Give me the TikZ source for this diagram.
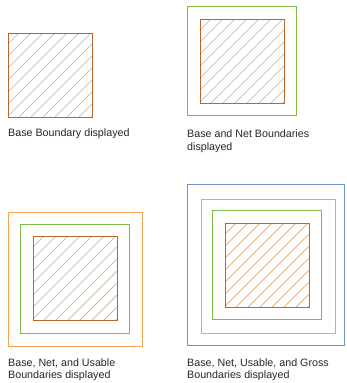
\documentclass[tikz,border=0pt]{standalone}
\usepackage{fontspec}
\setmainfont{Liberation Sans}
\usepackage{xcolor}
\usepackage{tikz}
\usetikzlibrary{calc}

\definecolor{basecol}{HTML}{B8662A}
\definecolor{hatchcol}{HTML}{DCA676}
\definecolor{netcol}{HTML}{82BC48}
\definecolor{usablecol}{HTML}{F7A354}
\definecolor{grosscol}{HTML}{6A96CC}

\begin{document}
\begin{tikzpicture}[
  x=1pt, y=-1pt,
  bnd/.style={draw, inner sep=0pt, outer sep=0pt, line width=1pt},
  basebox/.style={bnd, draw=basecol, minimum size=84pt,
    path picture={
      \foreach \s in {10,22,...,178}
        \draw[hatchcol, line width=0.7pt]
          ($(path picture bounding box.north west)+(\s+10,-10)$) -- ++(-120,120);
    }},
  netbox/.style={bnd, draw=netcol, minimum size=109pt},
  usablebox/.style={bnd, draw=usablecol, minimum size=134pt},
  grossbox/.style={bnd, draw=grosscol, minimum width=157pt, minimum height=161pt},
  caption/.style={anchor=north west, inner sep=0pt, align=left, text=black!85,
                  font=\fontsize{10.7}{12.5}\selectfont}
]
\useasboundingbox (0,0) rectangle (346,383);

% base only
\node[basebox] (b1) at (50.5,75.5) {};
\node[caption] (t1) at (8,129) {Base Boundary displayed};

% base and net
\node[netbox] (n2) at (242,61) {};
\node[basebox] (b2) at (242.5,61.5) {};
\node[caption] (t2) at (187,130) {Base and Net Boundaries\\displayed};

% base, net, usable
\node[usablebox] (u3) at (75.5,279.5) {};
\node[netbox] (n3) at (75,279) {};
\node[basebox] (b3) at (75.5,278.5) {};
\node[caption] (t3) at (8,358.5) {Base, Net, and Usable\\Boundaries displayed};

% base, net, usable, gross
\node[grossbox] (g4) at (266,265) {};
\node[usablebox] (u4) at (268.5,266.5) {};
\node[netbox] (n4) at (267,265) {};
\node[basebox] (b4) at (267.5,265.5) {};
\node[caption] (t4) at (187,358.5) {Base, Net, Usable, and Gross\\Boundaries displayed};
\end{tikzpicture}
\end{document}
